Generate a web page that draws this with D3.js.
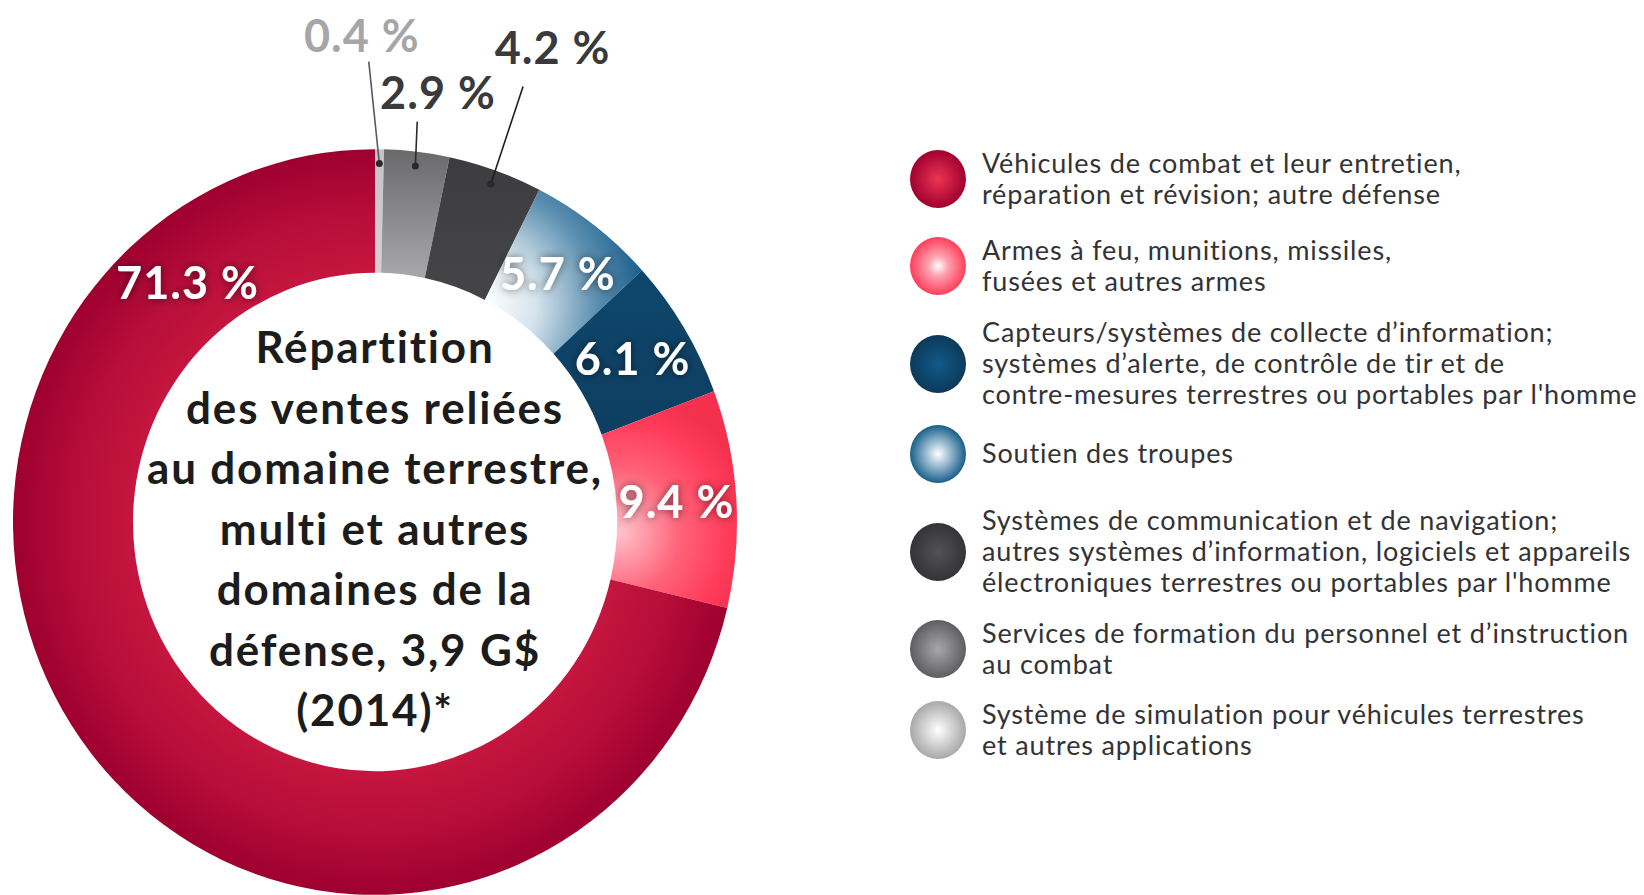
<!DOCTYPE html>
<html lang="fr">
<head>
<meta charset="UTF-8">
<title>Répartition des ventes</title>
<script src="https://cdn.jsdelivr.net/npm/d3@7"></script>
<style>
  body { margin: 0; background: #fff; }
  svg { display: block; }
</style>
</head>
<body>
<script>
    // legend order, top to bottom
    var categories = [
        ["Véhicules de combat et leur entretien,", "réparation et révision; autre défense"],
        ["Armes à feu, munitions, missiles,", "fusées et autres armes"],
        ["Capteurs/systèmes de collecte d’information;", "systèmes d’alerte, de contrôle de tir et de", "contre-mesures terrestres ou portables par l'homme"],
        ["Soutien des troupes"],
        ["Systèmes de communication et de navigation;", "autres systèmes d’information, logiciels et appareils", "électroniques terrestres ou portables par l'homme"],
        ["Services de formation du personnel et d’instruction", "au combat"],
        ["Système de simulation pour véhicules terrestres", "et autres applications"]
    ];
    var shares = [71.3, 9.4, 6.1, 5.7, 4.2, 2.9, 0.4];
    var titleLines = ["Répartition", "des ventes reliées", "au domaine terrestre,", "multi et autres", "domaines de la", "défense, 3,9 G$", "(2014)*"];

    var width = 1644, height = 895;
    var cx = 375, cy = 522, sy = 1.03;
    var outerR = 362, innerR = 242;
    var fmt = function (v) { return d3.format(".1f")(v) + " %"; };
    var font = "Lato, 'DejaVu Sans', sans-serif";

    var svg = d3.select("body").append("svg")
        .attr("width", width)
        .attr("height", height);
    var defs = svg.append("defs");

    // slice gradients (user space of the donut group, origin at centre)
    function radial(id, x, y, r, stops) {
        var g = defs.append("radialGradient").attr("id", id)
            .attr("gradientUnits", "userSpaceOnUse")
            .attr("cx", x).attr("cy", y).attr("r", r);
        stops.forEach(function (s) {
            g.append("stop").attr("offset", s[0]).attr("stop-color", s[1]);
        });
    }
    function linear(id, y1, y2, stops) {
        var g = defs.append("linearGradient").attr("id", id)
            .attr("gradientUnits", "userSpaceOnUse")
            .attr("x1", 0).attr("x2", 0).attr("y1", y1).attr("y2", y2);
        stops.forEach(function (s) {
            g.append("stop").attr("offset", s[0]).attr("stop-color", s[1]);
        });
    }
    radial("s0", 0, 0, outerR, [[0.66, "#c5163e"], [0.82, "#b80e3a"], [1, "#9e002f"]]);
    radial("s1", 245, 10, 135, [[0, "#ffc2cc"], [0.45, "#ff6279"], [0.8, "#ff3b59"], [1, "#f4304f"]]);
    linear("s2", -300, -60, [[0, "#0f4a70"], [1, "#0d3d5f"]]);
    radial("s3", 110, -212, 170, [[0, "#ffffff"], [0.3, "#d6e4ec"], [0.65, "#5d90b1"], [1, "#0f5584"]]);
    linear("s4", -362, -242, [[0, "#3c3c3e"], [1, "#444446"]]);
    linear("s5", -362, -242, [[0, "#69696b"], [1, "#a6a6a8"]]);
    linear("s6", -362, -242, [[0, "#c4c4c6"], [1, "#d2d2d4"]]);

    // legend spheres
    var sphereStops = [
        [[0, "#ec3553"], [1, "#a10030"]],
        [[0, "#ffffff"], [0.35, "#ffa2b0"], [1, "#ff3d5a"]],
        [[0, "#105a88"], [1, "#0c3a5a"]],
        [[0, "#ffffff"], [0.5, "#8ab0c8"], [1, "#195f8a"]],
        [[0, "#525254"], [1, "#343436"]],
        [[0, "#a8a8aa"], [1, "#5e5e60"]],
        [[0, "#ffffff"], [1, "#a8a8aa"]]
    ];
    sphereStops.forEach(function (st, i) {
        var g = defs.append("radialGradient").attr("id", "b" + i)
            .attr("cx", 0.5).attr("cy", 0.5).attr("r", 0.5);
        st.forEach(function (s) {
            g.append("stop").attr("offset", s[0]).attr("stop-color", s[1]);
        });
    });

    var glow = defs.append("filter").attr("id", "glow")
        .attr("x", "-30%").attr("y", "-50%").attr("width", "160%").attr("height", "200%");
    glow.append("feDropShadow").attr("dx", 0).attr("dy", 0)
        .attr("stdDeviation", 4).attr("flood-color", "#000").attr("flood-opacity", 0.55);

    // donut: clockwise from 12 o'clock, reverse of legend order
    var pie = d3.pie().sort(null).value(function (d) { return d.v; });
    var slices = pie(shares.map(function (v, i) { return {v: v, i: i}; }).reverse());
    var arc = d3.arc().innerRadius(innerR).outerRadius(outerR);

    var donut = svg.append("g")
        .attr("transform", "translate(" + cx + "," + cy + ") scale(1," + sy + ")");
    donut.selectAll("path")
        .data(slices)
        .join("path")
        .attr("d", arc)
        .attr("fill", function (d) { return "url(#s" + d.data.i + ")"; });

    function polar(a, r) {
        return [cx + r * Math.sin(a), cy - r * Math.cos(a) * sy];
    }
    var deg = Math.PI / 180;

    // labels inside the ring
    var maxShare = d3.max(shares);
    var inside = slices.filter(function (d) { return d.data.v >= 5; });
    svg.append("g").selectAll("text")
        .data(inside)
        .join("text")
        .attr("transform", function (d) {
            var a = d.data.v === maxShare ? -39 * deg : (d.startAngle + d.endAngle) / 2;
            var p = polar(a, d.data.v === maxShare ? 298 : (innerR + outerR) / 2);
            return "translate(" + p[0] + "," + p[1] + ")";
        })
        .attr("text-anchor", "middle")
        .attr("dy", "0.35em")
        .attr("font-family", font)
        .attr("font-weight", "bold")
        .attr("font-size", "45px")
        .attr("letter-spacing", "1px")
        .attr("fill", "#fff")
        .attr("filter", "url(#glow)")
        .text(function (d) { return fmt(d.data.v); });

    // callouts for the small slices: label / leader end as (angle deg, radius)
    var calloutPos = {
        6: {label: [-1.6, 472], end: [-0.8, 447], color: "#a6a6a8", line: "#5a5a5c"},
        5: {label: [8.6, 421], end: [6.2, 391], color: "#3a3a3c", line: "#2b2b2d"},
        4: {label: [21.1, 493], end: [19.3, 448], color: "#3a3a3c", line: "#1e1e20"}
    };
    var small = slices.filter(function (d) { return d.data.v < 5; });
    var co = svg.append("g").selectAll("g")
        .data(small)
        .join("g");
    co.append("line")
        .attr("x1", function (d) { return polar((d.startAngle + d.endAngle) / 2, 348)[0]; })
        .attr("y1", function (d) { return polar((d.startAngle + d.endAngle) / 2, 348)[1]; })
        .attr("x2", function (d) { var c = calloutPos[d.data.i].end; return polar(c[0] * deg, c[1])[0]; })
        .attr("y2", function (d) { var c = calloutPos[d.data.i].end; return polar(c[0] * deg, c[1])[1]; })
        .attr("stroke", function (d) { return calloutPos[d.data.i].line; })
        .attr("stroke-width", 1.6);
    co.append("circle")
        .attr("cx", function (d) { return polar((d.startAngle + d.endAngle) / 2, 348)[0]; })
        .attr("cy", function (d) { return polar((d.startAngle + d.endAngle) / 2, 348)[1]; })
        .attr("r", 3.5)
        .attr("fill", "#2a2a2c");
    co.append("text")
        .attr("x", function (d) { var c = calloutPos[d.data.i].label; return polar(c[0] * deg, c[1])[0]; })
        .attr("y", function (d) { var c = calloutPos[d.data.i].label; return polar(c[0] * deg, c[1])[1]; })
        .attr("text-anchor", "middle")
        .attr("dy", "0.35em")
        .attr("font-family", font)
        .attr("font-weight", "bold")
        .attr("font-size", "45px")
        .attr("letter-spacing", "1px")
        .attr("fill", function (d) { return calloutPos[d.data.i].color; })
        .text(function (d) { return fmt(d.data.v); });

    // centre title
    var titleY = d3.scaleLinear().domain([0, titleLines.length - 1]).range([348, 711]);
    svg.append("g").selectAll("text")
        .data(titleLines)
        .join("text")
        .attr("x", cx)
        .attr("y", function (d, i) { return titleY(i); })
        .attr("dy", "0.35em")
        .attr("text-anchor", "middle")
        .attr("font-family", font)
        .attr("font-weight", "bold")
        .attr("font-size", "44px")
        .attr("letter-spacing", "1.8px")
        .attr("fill", "#1c1c1c")
        .text(function (d) { return d; });

    // legend (block centres in px)
    var legendY = [179, 266, 364, 454, 552, 649, 730];
    var lineH = 31;
    var legend = svg.append("g").selectAll("g")
        .data(categories)
        .join("g")
        .attr("transform", function (d, i) { return "translate(938," + legendY[i] + ")"; });
    legend.append("ellipse")
        .attr("rx", 28)
        .attr("ry", 29)
        .attr("fill", function (d, i) { return "url(#b" + i + ")"; });
    legend.each(function (lines) {
        d3.select(this).selectAll("text")
            .data(lines)
            .join("text")
            .attr("x", 44)
            .attr("y", function (d, j) { return (j - (lines.length - 1) / 2) * lineH; })
            .attr("dy", "0.35em")
            .attr("font-family", font)
            .attr("font-size", "27px")
            .attr("letter-spacing", "0.85px")
            .attr("fill", "#333335")
            .text(function (d) { return d; });
    });
</script>
</body>
</html>
